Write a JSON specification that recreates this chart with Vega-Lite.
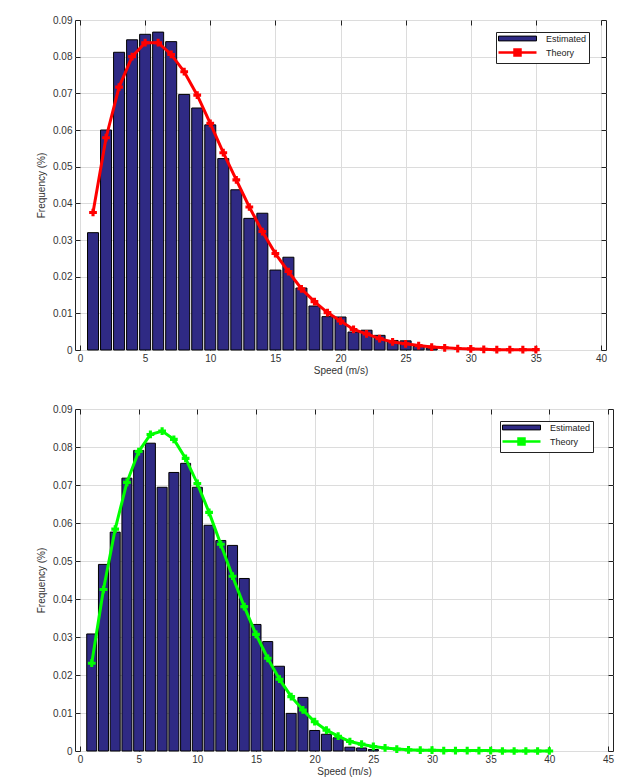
{
  "$schema": "https://vega.github.io/schema/vega-lite/v6.json",
  "padding": {"left": 36, "top": 14, "right": 5, "bottom": 5},
  "spacing": 27,
  "datasets": {
    "estA": [
      {"speed": 1, "freq": 0.032, "series": "Estimated"},
      {"speed": 2, "freq": 0.060, "series": "Estimated"},
      {"speed": 3, "freq": 0.0812, "series": "Estimated"},
      {"speed": 4, "freq": 0.0846, "series": "Estimated"},
      {"speed": 5, "freq": 0.0861, "series": "Estimated"},
      {"speed": 6, "freq": 0.0867, "series": "Estimated"},
      {"speed": 7, "freq": 0.0841, "series": "Estimated"},
      {"speed": 8, "freq": 0.0697, "series": "Estimated"},
      {"speed": 9, "freq": 0.066, "series": "Estimated"},
      {"speed": 10, "freq": 0.0614, "series": "Estimated"},
      {"speed": 11, "freq": 0.0522, "series": "Estimated"},
      {"speed": 12, "freq": 0.0437, "series": "Estimated"},
      {"speed": 13, "freq": 0.0359, "series": "Estimated"},
      {"speed": 14, "freq": 0.0373, "series": "Estimated"},
      {"speed": 15, "freq": 0.0218, "series": "Estimated"},
      {"speed": 16, "freq": 0.0253, "series": "Estimated"},
      {"speed": 17, "freq": 0.0169, "series": "Estimated"},
      {"speed": 18, "freq": 0.012, "series": "Estimated"},
      {"speed": 19, "freq": 0.0091, "series": "Estimated"},
      {"speed": 20, "freq": 0.009, "series": "Estimated"},
      {"speed": 21, "freq": 0.0049, "series": "Estimated"},
      {"speed": 22, "freq": 0.0054, "series": "Estimated"},
      {"speed": 23, "freq": 0.004, "series": "Estimated"},
      {"speed": 24, "freq": 0.0026, "series": "Estimated"},
      {"speed": 25, "freq": 0.0025, "series": "Estimated"},
      {"speed": 26, "freq": 0.001, "series": "Estimated"},
      {"speed": 27, "freq": 0.0005, "series": "Estimated"}
    ],
    "thA": [
      {"speed": 1, "freq": 0.0375, "series": "Theory"},
      {"speed": 2, "freq": 0.0579, "series": "Theory"},
      {"speed": 3, "freq": 0.0717, "series": "Theory"},
      {"speed": 4, "freq": 0.080, "series": "Theory"},
      {"speed": 5, "freq": 0.0838, "series": "Theory"},
      {"speed": 6, "freq": 0.0838, "series": "Theory"},
      {"speed": 7, "freq": 0.0806, "series": "Theory"},
      {"speed": 8, "freq": 0.0759, "series": "Theory"},
      {"speed": 9, "freq": 0.0695, "series": "Theory"},
      {"speed": 10, "freq": 0.0618, "series": "Theory"},
      {"speed": 11, "freq": 0.0538, "series": "Theory"},
      {"speed": 12, "freq": 0.0464, "series": "Theory"},
      {"speed": 13, "freq": 0.039, "series": "Theory"},
      {"speed": 14, "freq": 0.0323, "series": "Theory"},
      {"speed": 15, "freq": 0.0263, "series": "Theory"},
      {"speed": 16, "freq": 0.0214, "series": "Theory"},
      {"speed": 17, "freq": 0.0167, "series": "Theory"},
      {"speed": 18, "freq": 0.0132, "series": "Theory"},
      {"speed": 19, "freq": 0.0102, "series": "Theory"},
      {"speed": 20, "freq": 0.0079, "series": "Theory"},
      {"speed": 21, "freq": 0.0056, "series": "Theory"},
      {"speed": 22, "freq": 0.0044, "series": "Theory"},
      {"speed": 23, "freq": 0.0031, "series": "Theory"},
      {"speed": 24, "freq": 0.0022, "series": "Theory"},
      {"speed": 25, "freq": 0.0017, "series": "Theory"},
      {"speed": 26, "freq": 0.0012, "series": "Theory"},
      {"speed": 27, "freq": 0.0008, "series": "Theory"},
      {"speed": 28, "freq": 0.0006, "series": "Theory"},
      {"speed": 29, "freq": 0.0004, "series": "Theory"},
      {"speed": 30, "freq": 0.0003, "series": "Theory"},
      {"speed": 31, "freq": 0.0002, "series": "Theory"},
      {"speed": 32, "freq": 0.0001, "series": "Theory"},
      {"speed": 33, "freq": 0.0001, "series": "Theory"},
      {"speed": 34, "freq": 0.0001, "series": "Theory"},
      {"speed": 35, "freq": 0.0001, "series": "Theory"}
    ],
    "estB": [
      {"speed": 1, "freq": 0.0308, "series": "Estimated"},
      {"speed": 2, "freq": 0.0491, "series": "Estimated"},
      {"speed": 3, "freq": 0.0576, "series": "Estimated"},
      {"speed": 4, "freq": 0.0718, "series": "Estimated"},
      {"speed": 5, "freq": 0.0791, "series": "Estimated"},
      {"speed": 6, "freq": 0.081, "series": "Estimated"},
      {"speed": 7, "freq": 0.0694, "series": "Estimated"},
      {"speed": 8, "freq": 0.0733, "series": "Estimated"},
      {"speed": 9, "freq": 0.0757, "series": "Estimated"},
      {"speed": 10, "freq": 0.0694, "series": "Estimated"},
      {"speed": 11, "freq": 0.0594, "series": "Estimated"},
      {"speed": 12, "freq": 0.0554, "series": "Estimated"},
      {"speed": 13, "freq": 0.0541, "series": "Estimated"},
      {"speed": 14, "freq": 0.0454, "series": "Estimated"},
      {"speed": 15, "freq": 0.0333, "series": "Estimated"},
      {"speed": 16, "freq": 0.0288, "series": "Estimated"},
      {"speed": 17, "freq": 0.0223, "series": "Estimated"},
      {"speed": 18, "freq": 0.0099, "series": "Estimated"},
      {"speed": 19, "freq": 0.0141, "series": "Estimated"},
      {"speed": 20, "freq": 0.0054, "series": "Estimated"},
      {"speed": 21, "freq": 0.0044, "series": "Estimated"},
      {"speed": 22, "freq": 0.0035, "series": "Estimated"},
      {"speed": 23, "freq": 0.001, "series": "Estimated"},
      {"speed": 24, "freq": 0.0008, "series": "Estimated"},
      {"speed": 25, "freq": 0.0004, "series": "Estimated"}
    ],
    "thB": [
      {"speed": 1, "freq": 0.0231, "series": "Theory"},
      {"speed": 2, "freq": 0.0425, "series": "Theory"},
      {"speed": 3, "freq": 0.0584, "series": "Theory"},
      {"speed": 4, "freq": 0.0707, "series": "Theory"},
      {"speed": 5, "freq": 0.0788, "series": "Theory"},
      {"speed": 6, "freq": 0.0833, "series": "Theory"},
      {"speed": 7, "freq": 0.0842, "series": "Theory"},
      {"speed": 8, "freq": 0.082, "series": "Theory"},
      {"speed": 9, "freq": 0.077, "series": "Theory"},
      {"speed": 10, "freq": 0.0704, "series": "Theory"},
      {"speed": 11, "freq": 0.0628, "series": "Theory"},
      {"speed": 12, "freq": 0.0544, "series": "Theory"},
      {"speed": 13, "freq": 0.046, "series": "Theory"},
      {"speed": 14, "freq": 0.038, "series": "Theory"},
      {"speed": 15, "freq": 0.0307, "series": "Theory"},
      {"speed": 16, "freq": 0.0244, "series": "Theory"},
      {"speed": 17, "freq": 0.0189, "series": "Theory"},
      {"speed": 18, "freq": 0.0143, "series": "Theory"},
      {"speed": 19, "freq": 0.0108, "series": "Theory"},
      {"speed": 20, "freq": 0.0077, "series": "Theory"},
      {"speed": 21, "freq": 0.0055, "series": "Theory"},
      {"speed": 22, "freq": 0.0039, "series": "Theory"},
      {"speed": 23, "freq": 0.0025, "series": "Theory"},
      {"speed": 24, "freq": 0.0018, "series": "Theory"},
      {"speed": 25, "freq": 0.0012, "series": "Theory"},
      {"speed": 26, "freq": 0.0008, "series": "Theory"},
      {"speed": 27, "freq": 0.0005, "series": "Theory"},
      {"speed": 28, "freq": 0.0003, "series": "Theory"},
      {"speed": 29, "freq": 0.0002, "series": "Theory"},
      {"speed": 30, "freq": 0.0002, "series": "Theory"},
      {"speed": 31, "freq": 0.0001, "series": "Theory"},
      {"speed": 32, "freq": 0.0001, "series": "Theory"},
      {"speed": 33, "freq": 0.0001, "series": "Theory"},
      {"speed": 34, "freq": 0.0001, "series": "Theory"},
      {"speed": 35, "freq": 0.0001, "series": "Theory"},
      {"speed": 36, "freq": 0.0, "series": "Theory"},
      {"speed": 37, "freq": 0.0, "series": "Theory"},
      {"speed": 38, "freq": 0.0, "series": "Theory"},
      {"speed": 39, "freq": 0.0, "series": "Theory"},
      {"speed": 40, "freq": 0.0, "series": "Theory"}
    ]
  },
  "config": {
    "font": "Liberation Sans",
    "view": {"stroke": "#222", "strokeWidth": 1},
    "axis": {
      "domain": false,
      "grid": true,
      "gridColor": "#dcdcdc",
      "gridWidth": 1,
      "tickColor": "#222",
      "tickSize": -5,
      "labelFontSize": 10,
      "labelColor": "#333",
      "titleFontSize": 10,
      "titleFontWeight": "normal",
      "titleColor": "#333",
      "labelPadding": 8
    },
    "legend": {
      "labelFontSize": 9,
      "labelColor": "#222"
    }
  },
  "resolve": {"scale": {"color": "independent"}},
  "vconcat": [
    {
      "width": 531,
      "height": 330,
      "resolve": {"axis": {"x": "independent", "y": "independent"}},
      "layer": [
        {
          "data": {"name": "estA"},
          "mark": {"type": "bar", "size": 11, "stroke": "#000", "strokeWidth": 1, "opacity": 1},
          "encoding": {
            "x": {"field": "speed", "type": "quantitative", "scale": {"domain": [0, 40], "nice": false}, "axis": {"title": "Speed (m/s)", "values": [0,5,10,15,20,25,30,35,40], "titlePadding": 2}},
            "y": {"field": "freq", "type": "quantitative", "scale": {"domain": [0, 0.09], "nice": false}, "axis": {"title": "Frequency (%)", "values": [0,0.01,0.02,0.03,0.04,0.05,0.06,0.07,0.08,0.09], "format": ".2~f", "titlePadding": 6}},
            "color": {
              "field": "series", "type": "nominal",
              "scale": {"domain": ["Estimated", "Theory"], "range": ["#2f2a84", "#ff0000"]},
              "legend": {
                "title": null, "orient": "none", "legendX": 421, "legendY": 12,
                "strokeColor": "#222", "fillColor": "#fff", "padding": 2, "rowPadding": 0,
                "symbolSize": 64, "symbolOffset": 15, "labelOffset": 24,
                "symbolType": {"expr": "datum.value === 'Estimated' ? 'M-4.75,-0.6H4.75V0.6H-4.75Z' : 'M-4.75,0H4.75M-0.75,-0.75H0.75V0.75H-0.75Z'"},
                "symbolStrokeColor": {"expr": "datum.value === 'Estimated' ? '#000' : '#ff0000'"},
                "symbolStrokeWidth": {"expr": "datum.value === 'Estimated' ? 1 : 2.5"},
                "symbolOpacity": 1
              }
            }
          }
        },
        {
          "data": {"name": "thA"},
          "mark": {"type": "line", "strokeWidth": 3, "color": "#ff0000", "point": {"shape": "cross", "size": 60, "filled": true, "opacity": 1, "color": "#ff0000"}},
          "encoding": {
            "x": {"field": "speed", "type": "quantitative", "axis": {"orient": "top", "labels": false, "title": null, "grid": false, "values": [0,5,10,15,20,25,30,35,40]}},
            "y": {"field": "freq", "type": "quantitative", "axis": {"orient": "right", "labels": false, "title": null, "grid": false, "values": [0,0.01,0.02,0.03,0.04,0.05,0.06,0.07,0.08,0.09]}}
          }
        }
      ]
    },
    {
      "width": 538,
      "height": 342,
      "resolve": {"axis": {"x": "independent", "y": "independent"}},
      "layer": [
        {
          "data": {"name": "estB"},
          "mark": {"type": "bar", "size": 10, "stroke": "#000", "strokeWidth": 1, "opacity": 1},
          "encoding": {
            "x": {"field": "speed", "type": "quantitative", "scale": {"domain": [0, 45], "nice": false}, "axis": {"title": "Speed (m/s)", "values": [0,5,10,15,20,25,30,35,40,45], "titlePadding": 2}},
            "y": {"field": "freq", "type": "quantitative", "scale": {"domain": [0, 0.09], "nice": false}, "axis": {"title": "Frequency (%)", "values": [0,0.01,0.02,0.03,0.04,0.05,0.06,0.07,0.08,0.09], "format": ".2~f", "titlePadding": 6}},
            "color": {
              "field": "series", "type": "nominal",
              "scale": {"domain": ["Estimated", "Theory"], "range": ["#2f2a84", "#00ff00"]},
              "legend": {
                "title": null, "orient": "none", "legendX": 425, "legendY": 12,
                "strokeColor": "#222", "fillColor": "#fff", "padding": 2, "rowPadding": 0,
                "symbolSize": 64, "symbolOffset": 15, "labelOffset": 24,
                "symbolType": {"expr": "datum.value === 'Estimated' ? 'M-4.75,-0.6H4.75V0.6H-4.75Z' : 'M-4.75,0H4.75M-0.75,-0.75H0.75V0.75H-0.75Z'"},
                "symbolStrokeColor": {"expr": "datum.value === 'Estimated' ? '#000' : '#00ff00'"},
                "symbolStrokeWidth": {"expr": "datum.value === 'Estimated' ? 1 : 2.5"},
                "symbolOpacity": 1
              }
            }
          }
        },
        {
          "data": {"name": "thB"},
          "mark": {"type": "line", "strokeWidth": 3, "color": "#00ff00", "point": {"shape": "cross", "size": 60, "filled": true, "opacity": 1, "color": "#00ff00"}},
          "encoding": {
            "x": {"field": "speed", "type": "quantitative", "axis": {"orient": "top", "labels": false, "title": null, "grid": false, "values": [0,5,10,15,20,25,30,35,40,45]}},
            "y": {"field": "freq", "type": "quantitative", "axis": {"orient": "right", "labels": false, "title": null, "grid": false, "values": [0,0.01,0.02,0.03,0.04,0.05,0.06,0.07,0.08,0.09]}}
          }
        }
      ]
    }
  ]
}
